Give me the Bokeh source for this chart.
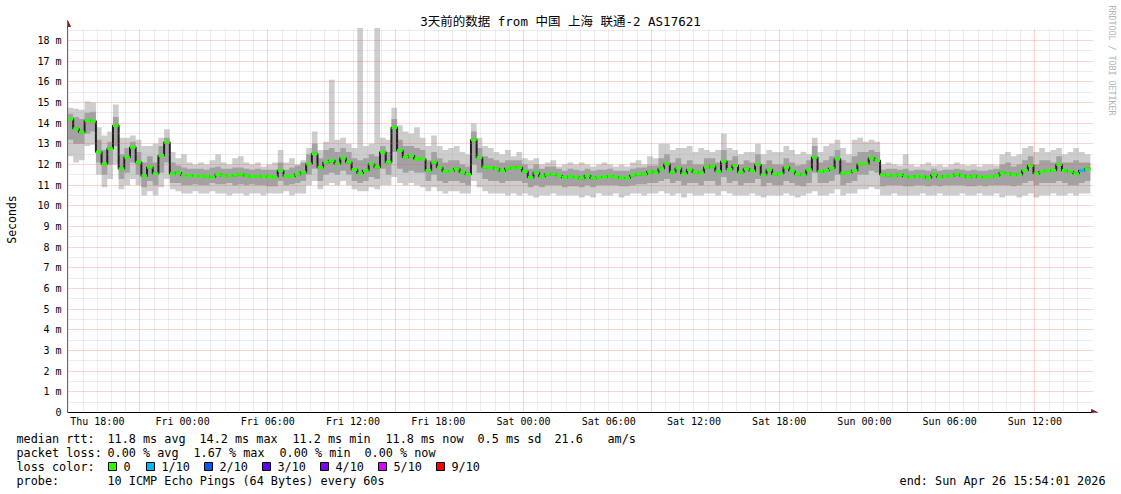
import math
from bokeh.plotting import figure
from bokeh.layouts import column, row
from bokeh.models import (Range1d, FixedTicker, Grid, Label, Arrow, NormalHead,
                          ColumnDataSource)
from bokeh.embed import file_html
from bokeh.resources import INLINE

# ------------------------------------------------------------------ data
title_text = "3天前的数据 from 中国 上海 联通-2 AS17621"
start_hour = 15 + 54 / 60 + 1 / 3600      # Thu 15:54:01, hours since Thu 00:00
step_minutes = 24

x_tick_hours = [18, 24, 30, 36, 42, 48, 54, 60, 66, 72, 78, 84]
x_tick_labels = ["Thu 18:00", "Fri 00:00", "Fri 06:00", "Fri 12:00", "Fri 18:00",
                 "Sat 00:00", "Sat 06:00", "Sat 12:00", "Sat 18:00", "Sun 00:00",
                 "Sun 06:00", "Sun 12:00"]
y_tick_values = [0, 1, 2, 3, 4, 5, 6, 7, 8, 9, 10, 11, 12, 13, 14, 15, 16, 17, 18]
y_tick_labels = ["0", "1 m", "2 m", "3 m", "4 m", "5 m", "6 m", "7 m", "8 m", "9 m",
                 "10 m", "11 m", "12 m", "13 m", "14 m", "15 m", "16 m", "17 m", "18 m"]

# median rtt per 24-min step (ms)
median = [
    14.2, 13.73, 13.56, 14.13, 14.11,
    12.6, 12.03, 12.76, 13.89, 11.79, 12.35, 12.84, 12.11,
    11.44, 11.87, 11.55, 12.44, 13.08, 11.55,
    11.6, 11.47, 11.47, 11.44, 11.44, 11.42, 11.4, 11.52, 11.45, 11.47, 11.48, 11.53,
    11.45, 11.42, 11.44, 11.42, 11.42, 11.39, 11.71, 11.44, 11.42, 11.53, 11.63,
    12.03, 12.52, 11.85,
    12.11, 12.19, 12.03, 12.31, 12.11, 11.76, 11.56, 11.71, 12.03, 11.87, 12.6, 12.11,
    13.79,
    12.68, 12.35, 12.44, 12.27, 12.27, 11.71, 12.11, 11.85, 11.66, 11.69, 11.79, 11.63, 11.52,
    13.2,
    12.34, 11.87, 11.85, 11.79, 11.69, 11.82, 11.84, 11.85, 11.66, 11.37, 11.6, 11.42,
    11.53, 11.53, 11.47, 11.37, 11.42,
    11.4, 11.34, 11.47, 11.34, 11.4, 11.4, 11.44, 11.4, 11.35, 11.35, 11.48, 11.53, 11.53,
    11.66, 11.6, 11.79, 12.03, 11.63, 11.82, 11.55, 11.76, 11.63, 11.6, 11.87, 11.92,
    11.66, 12.16, 11.76, 11.95, 11.63, 11.79, 11.69, 12.0, 11.5, 11.76, 11.53, 11.55,
    11.87, 11.69, 11.53, 11.5, 11.73, 12.35, 11.66, 11.71,
    11.82, 12.27, 11.58, 11.6, 11.71, 12.03, 12.03, 12.31, 12.19,
    11.5, 11.48, 11.45, 11.52, 11.42, 11.39, 11.44, 11.42, 11.35, 11.5, 11.39,
    11.44, 11.44, 11.53, 11.45, 11.4, 11.45, 11.4, 11.4, 11.42, 11.45,
    11.6, 11.55, 11.5, 11.5, 11.71, 11.95, 11.55, 11.66, 11.71, 11.71, 12.0, 11.71,
    11.66, 11.55, 11.71, 11.8,
]
# outer smoke (lightest band): max / min ping per step (ms)
smoke_hi = [
    14.75, 14.7, 14.65, 15.05, 15.0,
    13.8, 13.4, 13.6, 14.9, 13.3, 13.3, 13.4, 13.2,
    12.9, 12.9, 13.0, 13.3, 13.7, 12.6,
    12.3, 12.5, 12.1, 12.0, 12.1, 12.0, 12.2, 12.5, 12.1, 12.0, 12.3, 12.4,
    12.1, 12.0, 12.1, 11.9, 12.0, 12.1, 12.7, 12.1, 12.3, 12.0, 12.2,
    12.8, 13.6, 12.7,
    13.1, 16.1, 13.2, 13.3, 13.0, 12.8, 18.6, 12.9, 13.0, 18.6, 13.3, 13.2,
    14.75,
    13.9, 13.6, 13.5, 13.8, 13.3, 12.9, 13.4, 12.9, 12.7, 12.8, 12.9, 12.6, 12.5,
    14.0,
    13.3, 12.9, 12.8, 12.6, 12.5, 12.7, 12.4, 12.6, 12.3, 12.2, 12.3, 12.0,
    12.1, 12.2, 11.9, 12.0, 12.1,
    12.0, 12.1, 12.0, 11.9, 12.0, 12.1, 12.0, 11.9, 12.0, 11.9, 12.1, 12.2, 12.0,
    12.4, 12.3, 13.0, 13.0, 12.7, 12.8, 12.8, 12.9, 12.6, 12.8, 12.7, 12.6,
    12.7, 13.5, 12.8, 12.7, 12.5, 12.6, 12.6, 13.0, 12.5, 12.7, 12.6, 12.6,
    12.9, 12.7, 12.5, 12.6, 12.5, 13.3, 12.6, 12.9,
    13.0, 13.2, 12.8, 12.5, 13.2, 13.3, 13.1, 13.2, 13.1,
    12.0, 12.1, 12.0, 11.95, 12.5, 12.0, 11.9, 12.0, 12.1, 11.95, 12.0,
    11.9, 12.0, 12.1, 12.0, 11.95, 12.0, 11.9, 12.0, 12.0, 11.95,
    12.5, 12.6, 12.4, 12.5, 12.8, 12.9, 12.6, 12.8, 12.6, 12.7, 12.8, 12.5,
    12.6, 12.8, 12.6, 12.5,
]
smoke_lo = [
    12.4, 12.1, 12.2, 12.9, 12.95,
    11.5, 10.9, 11.3, 12.0, 10.8, 11.0, 11.3, 11.0,
    10.5, 10.7, 10.5, 10.9, 11.3, 10.8,
    10.7, 10.6, 10.6, 10.7, 10.6, 10.6, 10.7, 10.6, 10.6, 10.5, 10.6, 10.6,
    10.5, 10.6, 10.6, 10.5, 10.6, 10.6, 10.6, 10.7, 10.5, 10.6, 10.6,
    11.0, 11.2, 10.8,
    11.0, 11.1, 11.0, 11.2, 11.0, 10.8, 10.7, 10.7, 10.9, 10.8, 11.0, 11.0,
    11.4,
    11.1, 11.0, 11.1, 11.0, 10.9, 10.7, 10.9, 10.7, 10.6, 10.7, 10.7, 10.6, 10.6,
    11.2,
    10.9, 10.7, 10.6, 10.6, 10.6, 10.5, 10.6, 10.5, 10.6, 10.5, 10.4, 10.5,
    10.5, 10.6, 10.5, 10.5, 10.5,
    10.5, 10.4, 10.5, 10.4, 10.6, 10.5, 10.5, 10.6, 10.4, 10.5, 10.6, 10.6, 10.5,
    10.6, 10.6, 10.7, 10.6, 10.5, 10.6, 10.4, 10.6, 10.5, 10.5, 10.6, 10.6,
    10.5, 10.7, 10.6, 10.5, 10.5, 10.5, 10.6, 10.5, 10.4, 10.5, 10.5, 10.5,
    10.6, 10.5, 10.4, 10.5, 10.6, 10.7, 10.5, 10.5,
    10.6, 10.8, 10.5, 10.6, 10.6, 10.8, 10.8, 10.9, 10.8,
    10.5, 10.5, 10.6, 10.5, 10.5, 10.5, 10.5, 10.6, 10.5, 10.5, 10.6,
    10.5, 10.5, 10.5, 10.6, 10.5, 10.5, 10.6, 10.5, 10.5, 10.6,
    10.4, 10.5, 10.5, 10.4, 10.5, 10.6, 10.4, 10.5, 10.5, 10.6, 10.5, 10.5,
    10.6, 10.5, 10.6, 10.6,
]
# inner smoke (darker band)
smoke_mid_hi = [
    14.45, 14.3, 14.2, 14.5, 14.55,
    13.2, 12.7, 13.1, 14.3, 12.5, 12.8, 13.1, 12.6,
    12.1, 12.4, 12.1, 12.9, 13.3, 12.1,
    11.95, 11.85, 11.8, 11.8, 11.8, 11.75, 11.85, 11.9, 11.8, 11.8, 11.85, 11.85,
    11.8, 11.75, 11.8, 11.75, 11.75, 11.75, 12.1, 11.75, 11.85, 11.95, 12.1,
    12.5, 13.0, 12.3,
    12.7, 12.8, 12.6, 12.8, 12.6, 12.3, 12.2, 12.3, 12.5, 12.4, 12.9, 12.6,
    14.2,
    13.2, 12.9, 12.9, 12.8, 12.7, 12.2, 12.6, 12.3, 12.1, 12.2, 12.2, 12.0, 11.9,
    13.6,
    12.8, 12.4, 12.3, 12.2, 12.1, 12.2, 12.2, 12.2, 12.0, 11.8, 12.0, 11.8,
    11.9, 11.9, 11.8, 11.7, 11.8,
    11.75, 11.7, 11.8, 11.7, 11.75, 11.75, 11.8, 11.7, 11.7, 11.7, 11.8, 11.85, 11.85,
    11.95, 11.95, 12.3, 12.5, 12.1, 12.3, 12.0, 12.2, 12.0, 12.0, 12.3, 12.3,
    12.1, 12.7, 12.2, 12.4, 12.0, 12.2, 12.1, 12.5, 12.0, 12.2, 12.0, 12.0,
    12.3, 12.1, 11.95, 12.0, 12.2, 12.9, 12.1, 12.2,
    12.4, 12.7, 12.2, 12.1, 12.4, 12.6, 12.6, 12.7, 12.6,
    11.75, 11.8, 11.8, 11.75, 11.8, 11.7, 11.75, 11.75, 11.7, 11.8, 11.7,
    11.75, 11.75, 11.8, 11.75, 11.7, 11.75, 11.7, 11.7, 11.75, 11.8,
    12.0, 12.1, 11.9, 12.0, 12.2, 12.4, 12.0, 12.2, 12.2, 12.1, 12.4, 12.1,
    12.1, 12.2, 12.1, 12.1,
]
smoke_mid_lo = [
    13.2, 13.0, 13.0, 13.5, 13.6,
    12.1, 11.5, 12.0, 12.9, 11.3, 11.6, 12.1, 11.5,
    10.9, 11.2, 11.0, 11.6, 12.1, 11.1,
    11.1, 11.0, 11.0, 11.05, 11.0, 11.0, 11.1, 11.05, 11.05, 11.1, 11.0, 11.05,
    11.0, 11.05, 11.0, 11.0, 10.95, 10.95, 11.2, 11.0, 11.05, 11.1, 11.2,
    11.5, 11.8, 11.2,
    11.5, 11.6, 11.5, 11.7, 11.5, 11.2, 11.1, 11.2, 11.4, 11.3, 11.8, 11.5,
    12.6,
    11.8, 11.6, 11.7, 11.6, 11.6, 11.2, 11.5, 11.2, 11.1, 11.2, 11.2, 11.1, 11.0,
    12.0,
    11.6, 11.3, 11.2, 11.2, 11.1, 11.2, 11.2, 11.2, 11.1, 10.9, 11.0, 10.9,
    11.0, 11.0, 11.0, 10.9, 10.95,
    10.95, 10.9, 11.0, 10.9, 11.0, 11.0, 11.0, 11.0, 10.95, 10.95, 11.0, 11.05, 11.05,
    11.1, 11.1, 11.2, 11.3, 11.1, 11.2, 11.0, 11.1, 11.1, 11.0, 11.2, 11.2,
    11.0, 11.4, 11.1, 11.2, 11.0, 11.1, 11.1, 11.3, 10.95, 11.1, 11.0, 11.0,
    11.2, 11.1, 11.0, 10.95, 11.1, 11.6, 11.1, 11.1,
    11.2, 11.5, 11.0, 11.1, 11.2, 11.5, 11.5, 11.7, 11.6,
    10.95, 11.0, 11.0, 11.0, 10.95, 10.95, 11.0, 11.0, 10.95, 11.0, 10.95,
    11.0, 11.0, 11.0, 11.0, 10.95, 10.95, 11.0, 10.95, 11.0, 11.0,
    11.0, 11.0, 10.95, 11.0, 11.1, 11.2, 11.0, 11.1, 11.1, 11.1, 11.2, 11.1,
    11.0, 11.0, 11.1, 11.2,
]
# steps with lost pings: (step index, lost pings out of 10)
loss_steps = [178]
loss_counts = [1]

loss_labels = ["0", "1/10", "2/10", "3/10", "4/10", "5/10", "9/10"]
loss_colors = ["#26ff00", "#00b8ff", "#0059ff", "#5e00ff", "#7e00ff", "#dd00ff", "#ff0000"]

stats_rtt = ["11.8 ms avg", "14.2 ms max", "11.2 ms min", "11.8 ms now", "0.5 ms sd",
             "21.6", "am/s"]
stats_loss = ["0.00 % avg", "1.67 % max", "0.00 % min", "0.00 % now"]
probe_text = "10 ICMP Echo Pings (64 Bytes) every 60s"
end_text = "end: Sun Apr 26 15:54:01 2026"

lens = [len(median), len(smoke_hi), len(smoke_lo), len(smoke_mid_hi), len(smoke_mid_lo)]
if len(set(lens)) != 1:
    raise SystemExit("length mismatch: %s" % lens)

# ------------------------------------------------------------------ layout
MONO = "DejaVu Sans Mono"
TITLE_FONT = "'DejaVu Sans Mono', 'Noto Sans CJK SC'"
ARROW = "#801f1f"

PX_PER_H = 14.206
PX_PER_MS = 20.667
W = 1121
STRIP_W = 22                     # narrow strip on the left holding "Seconds"
FL, FB = 67, 412                 # frame left / x-axis position in page pixels
MAIN_H = 430
LEG_H = 494 - MAIN_H

step_h = step_minutes / 60.0
n = len(median)
t_left = [start_hour + i * step_h for i in range(n)]
t_right = [start_hour + (i + 1) * step_h for i in range(n)]

x0 = start_hour
x1 = x0 + (W - FL) / PX_PER_H
y1 = FB / PX_PER_MS


def hx(X):            # page x pixel -> hours
    return x0 + (X - FL) / PX_PER_H


def my(Y):            # page y pixel -> ms
    return (FB - Y) / PX_PER_MS


def no_align(fig):
    try:
        fig.frame_align = False
    except Exception:
        pass


p = figure(width=W - STRIP_W, height=MAIN_H, output_backend="svg", toolbar_location=None,
           x_range=Range1d(x0, x1), y_range=Range1d(0, y1),
           min_border_left=FL - STRIP_W, min_border_right=0, min_border_top=0,
           min_border_bottom=MAIN_H - FB)
p.outline_line_color = None
p.background_fill_color = "#ffffff"
p.border_fill_color = "#ffffff"
p.grid.visible = False
no_align(p)

# axes
xa = p.xaxis[0]
xa.ticker = FixedTicker(ticks=x_tick_hours, minor_ticks=[])
xa.major_label_overrides = {h: s for h, s in zip(x_tick_hours, x_tick_labels)}
xa.bounds = (x0, hx(1092))
xa.axis_line_color = "#000000"
xa.major_tick_in = 0
xa.major_tick_out = 0
xa.minor_tick_out = 0
xa.major_label_standoff = 3
xa.major_label_text_font = MONO
xa.major_label_text_font_size = "10px"
xa.major_label_text_color = "#000000"

ya = p.yaxis[0]
ya.ticker = FixedTicker(ticks=y_tick_values, minor_ticks=[])
ya.major_label_overrides = {v: s for v, s in zip(y_tick_values, y_tick_labels)}
ya.bounds = (0, my(26))
ya.axis_line_color = "#666666"
ya.major_tick_in = 0
ya.major_tick_out = 0
ya.minor_tick_out = 0
ya.major_label_standoff = 6
ya.major_label_text_font = MONO
ya.major_label_text_font_size = "10px"
ya.major_label_text_color = "#000000"

# grid
grid_x_end = hx(1093)
grid_y_end = my(28)
major_hours = list(range(21, 85, 9))
minor_hours = [h for h in range(16, 88) if h not in major_hours]
minor_ms = [v + 0.5 for v in y_tick_values]
major_ms = y_tick_values[1:]


def add_grid(dim, ticks, color, alpha, cross):
    g = Grid(dimension=dim, ticker=FixedTicker(ticks=ticks), grid_line_color=color,
             grid_line_alpha=alpha, grid_line_dash="1 1", grid_line_width=1,
             cross_bounds=cross, level="overlay")
    p.add_layout(g)


add_grid(0, minor_hours, "#a8a8a8", 0.42, (0, grid_y_end))
add_grid(1, minor_ms, "#a8a8a8", 0.42, (x0, grid_x_end))
add_grid(0, major_hours, "#f06060", 0.55, (0, grid_y_end))
add_grid(1, major_ms, "#f06060", 0.55, (x0, grid_x_end))

# smoke + median
xs = t_left + [t_right[-1]]
src = ColumnDataSource(dict(x=xs,
                            lo=smoke_lo + [smoke_lo[-1]], hi=smoke_hi + [smoke_hi[-1]],
                            mlo=smoke_mid_lo + [smoke_mid_lo[-1]],
                            mhi=smoke_mid_hi + [smoke_mid_hi[-1]],
                            med=median + [median[-1]]))
p.varea_step(x="x", y1="lo", y2="hi", step_mode="after", fill_color="#cdcdcd", source=src)
p.varea_step(x="x", y1="mlo", y2="mhi", step_mode="after", fill_color="#a2a2a2", source=src)
p.step(x="x", y="med", mode="after", line_color="#202020", line_width=2, source=src)

seg_colors = []
for i in range(n):
    c = loss_colors[0]
    if i in loss_steps:
        c = loss_colors[loss_counts[loss_steps.index(i)]]
    seg_colors.append(c)
p.segment(x0=t_left, y0=median, x1=t_right, y1=median, line_color=seg_colors,
          line_width=3, line_cap="butt")

# axis arrows
p.add_layout(Arrow(end=NormalHead(size=6, fill_color=ARROW, line_color=ARROW),
                   x_start=hx(1090), y_start=0, x_end=hx(1097), y_end=0,
                   line_color=ARROW, line_width=1))
p.add_layout(Arrow(end=NormalHead(size=6, fill_color=ARROW, line_color=ARROW),
                   x_start=x0, y_start=my(27), x_end=x0, y_end=my(20),
                   line_color=ARROW, line_width=1))


def lab(fig, text, X, Y, size="11.8px", align="left", angle=0.0, color="#000000",
        font=MONO, units="screen"):
    if units == "screen":
        X, Y = X - FL, FB - Y
    fig.add_layout(Label(x=X, y=Y, x_units=units, y_units=units, text=text,
                         text_font=font, text_font_size=size, text_align=align,
                         text_baseline="middle", angle=angle, text_color=color))


lab(p, title_text, 560, 21, size="12.5px", align="center", font=TITLE_FONT)
lab(p, "RRDTOOL / TOBI OETIKER", 1111, 5, size="8.3px", angle=-math.pi / 2,
    color="#b4b4b4")


def blank_fig(width, height, xr, yr):
    f = figure(width=width, height=height, output_backend="svg", toolbar_location=None,
               x_range=Range1d(*xr), y_range=Range1d(*yr),
               x_axis_location=None, y_axis_location=None,
               min_border_left=0, min_border_right=0, min_border_top=0,
               min_border_bottom=0)
    f.outline_line_color = None
    f.grid.visible = False
    f.background_fill_color = "#ffffff"
    f.border_fill_color = "#ffffff"
    no_align(f)
    return f


# ------------------------------------------------------------------ y-axis title strip
s = blank_fig(STRIP_W, MAIN_H, (0, STRIP_W), (MAIN_H, 0))
lab(s, "Seconds", 11, 219, size="11.5px", align="center", angle=math.pi / 2, units="data")

# ------------------------------------------------------------------ legend strip
q = blank_fig(W, LEG_H, (0, W), (494, MAIN_H))

row_y = [438, 452, 466, 480]
lab(q, "median rtt:", 16, row_y[0], units="data")
for txt, X in zip(stats_rtt, [107, 199, 292, 385, 477, 554, 607]):
    lab(q, txt, X, row_y[0], units="data")
lab(q, "packet loss:", 16, row_y[1], units="data")
for txt, X in zip(stats_loss, [107, 193, 279, 364]):
    lab(q, txt, X, row_y[1], units="data")
lab(q, "loss color:", 16, row_y[2], units="data")
sw_x = [108, 146, 204, 262, 320, 378, 436]
q.quad(left=sw_x, right=[v + 8 for v in sw_x], top=[row_y[2] - 4] * len(sw_x),
       bottom=[row_y[2] + 4] * len(sw_x), fill_color=loss_colors,
       line_color="#000000", line_width=1)
for txt, X in zip(loss_labels, sw_x):
    lab(q, txt, X + 15, row_y[2], units="data")
lab(q, "probe:", 16, row_y[3], units="data")
lab(q, probe_text, 107, row_y[3], units="data")
lab(q, end_text, 1105, row_y[3], align="right", units="data")

layout = column(row(s, p, spacing=0), q, spacing=0)
open("out.html", "w").write(file_html(layout, INLINE))
